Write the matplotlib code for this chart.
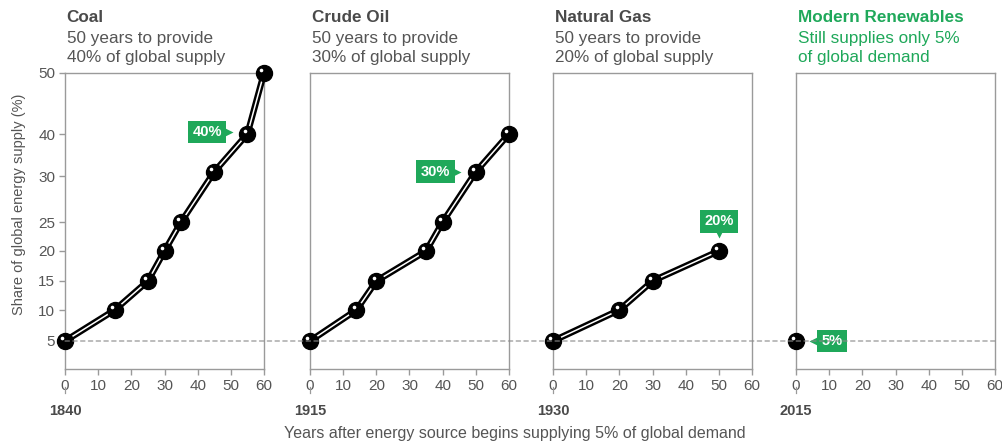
#!/usr/bin/env python3
"""Years for energy sources to reach share of global supply (small multiples)."""
import numpy as np
import matplotlib as mpl
mpl.use("Agg")
import matplotlib.pyplot as plt
from matplotlib.patches import ConnectionPatch
from matplotlib import transforms as mtrans

mpl.rcParams.update({
    "font.family": ["Liberation Sans", "DejaVu Sans"],
    "axes.edgecolor": "#9a9a9a",
    "axes.linewidth": 1.0,
    "xtick.color": "#9a9a9a",
    "ytick.color": "#9a9a9a",
    "xtick.labelcolor": "#555555",
    "ytick.labelcolor": "#555555",
    "xtick.labelsize": 11,
    "ytick.labelsize": 11,
})

# ---- data ----
COAL_X = [0, 15, 25, 30, 35, 45, 55, 60]
COAL_Y = [5, 10, 15, 20, 25, 31, 40, 50]
OIL_X = [0, 14, 20, 35, 40, 50, 60]
OIL_Y = [5, 10, 15, 20, 25, 31, 40]
GAS_X = [0, 20, 30, 50]
GAS_Y = [5, 10, 15, 20]
REN_X = [0]
REN_Y = [5]

TITLES = ["Coal", "Crude Oil", "Natural Gas", "Modern Renewables"]
SUBTITLES = [
    ["50 years to provide", "40% of global supply"],
    ["50 years to provide", "30% of global supply"],
    ["50 years to provide", "20% of global supply"],
    ["Still supplies only 5%", "of global demand"],
]
START_YEARS = ["1840", "1915", "1930", "2015"]
CALLOUTS = ["40%", "30%", "20%", "5%"]

Y_TICKS = [5, 10, 15, 20, 25, 30, 40, 50]
X_TICKS = [0, 10, 20, 30, 40, 50, 60]

# the original uses an uneven vertical scale; tick value -> relative height
SCALE_VALS = [0, 5, 10, 15, 20, 25, 30, 40, 50]
SCALE_POS = [0, 28, 59, 88, 118, 147, 193, 235, 296]

GREEN = "#1fa85a"
GRAY_TXT = "#555555"
DARK_TXT = "#4a4a4a"


def fwd(v):
    return np.interp(v, SCALE_VALS, SCALE_POS)


def inv(p):
    return np.interp(p, SCALE_POS, SCALE_VALS)


def draw_series(ax, fig, xs, ys):
    ax.plot(xs, ys, color="black", lw=4.6, solid_capstyle="round",
            solid_joinstyle="round", zorder=3, clip_on=False)
    ax.plot(xs, ys, color="white", lw=1.1, solid_capstyle="round",
            solid_joinstyle="round", zorder=4, clip_on=False)
    ax.plot(xs, ys, "o", color="black", ms=11.5, zorder=5, clip_on=False)
    hl = mtrans.offset_copy(ax.transData, fig=fig, x=-2.0, y=2.0, units="points")
    ax.plot(xs, ys, "o", color="white", ms=2.6, mec="none", zorder=6,
            transform=hl, clip_on=False)


def callout(ax, fig, x, y, text, box_off, tri_off, tri_marker):
    ax.annotate(text, xy=(x, y), xytext=box_off, textcoords="offset points",
                ha="center", va="center", color="white", fontsize=10.5,
                fontweight="bold", zorder=7,
                bbox=dict(boxstyle="square,pad=0.3", fc=GREEN, ec="none"))
    tr = mtrans.offset_copy(ax.transData, fig=fig, x=tri_off[0], y=tri_off[1],
                            units="points")
    ax.plot([x], [y], marker=tri_marker, color=GREEN, ms=6, mec="none",
            transform=tr, zorder=7, clip_on=False)


def plot():
    fig = plt.figure(figsize=(10.03, 4.41), dpi=100)
    W, H = 1003.0, 441.0
    lefts = [65, 310, 553, 796]
    ax_w, top_px, bot_px = 199, 73, 369

    axes = []
    for i, lx in enumerate(lefts):
        ax = fig.add_axes([lx / W, (H - bot_px) / H, ax_w / W, (bot_px - top_px) / H])
        ax.set_yscale("function", functions=(fwd, inv))
        ax.set_ylim(0, 50)
        ax.set_xlim(0, 60)
        ax.set_xticks(X_TICKS)
        ax.tick_params(axis="x", direction="out", length=4, width=1.0, pad=3)
        if i == 0:
            ax.set_yticks(Y_TICKS)
            ax.set_yticklabels([str(t) for t in Y_TICKS])
            ax.tick_params(axis="y", direction="out", length=4, width=1.0, pad=3)
            ax.set_ylabel("Share of global energy supply (%)", fontsize=10.5,
                          color=GRAY_TXT)
            ax.yaxis.set_label_coords(-0.196, 0.557)
        else:
            ax.set_yticks([])
        ax.yaxis.set_minor_locator(mpl.ticker.NullLocator())
        ax.set_facecolor("none")
        axes.append(ax)

        # titles
        tcol = GREEN if i == 3 else DARK_TXT
        scol = GREEN if i == 3 else GRAY_TXT
        ax.annotate(TITLES[i], xy=(0, 1), xycoords="axes fraction",
                    xytext=(1.2, 37), textcoords="offset points",
                    ha="left", va="baseline", fontsize=12.3, fontweight="bold",
                    color=tcol)
        ax.annotate(SUBTITLES[i][0], xy=(0, 1), xycoords="axes fraction",
                    xytext=(1.2, 21.8), textcoords="offset points",
                    ha="left", va="baseline", fontsize=12.3, color=scol)
        ax.annotate(SUBTITLES[i][1], xy=(0, 1), xycoords="axes fraction",
                    xytext=(1.2, 8.1), textcoords="offset points",
                    ha="left", va="baseline", fontsize=12.3, color=scol)

        # start year under the 0 tick
        blend = mtrans.blended_transform_factory(ax.transData, ax.transAxes)
        ax.plot([0, 0], [-0.062, -0.082], color="#9a9a9a", lw=0.9,
                transform=blend, clip_on=False)
        ax.text(0, -0.155, START_YEARS[i], transform=blend, ha="center",
                va="baseline", fontsize=10.5, fontweight="bold", color=DARK_TXT)

    # dashed 5% reference across all panels
    con = ConnectionPatch(xyA=(0, 5), coordsA=axes[0].transData,
                          xyB=(60, 5), coordsB=axes[3].transData,
                          color="#8a8a8a", lw=0.8, linestyle=(0, (4, 3)), zorder=1)
    fig.add_artist(con)

    series = [(COAL_X, COAL_Y), (OIL_X, OIL_Y), (GAS_X, GAS_Y), (REN_X, REN_Y)]
    for ax, (xs, ys) in zip(axes, series):
        draw_series(ax, fig, xs, ys)

    # callouts
    callout(axes[0], fig, COAL_X[-2], COAL_Y[-2], CALLOUTS[0], (-29, 1.5), (-13.5, 1.5), ">")
    callout(axes[1], fig, OIL_X[-2], OIL_Y[-2], CALLOUTS[1], (-29, 0), (-13.5, 0), ">")
    callout(axes[2], fig, GAS_X[-1], GAS_Y[-1], CALLOUTS[2], (0, 21.5), (0, 12.5), "v")
    callout(axes[3], fig, REN_X[0], REN_Y[0], CALLOUTS[3], (26, 0), (12.5, 0), "<")

    fig.text(515 / W, 1 - 438 / H,
             "Years after energy source begins supplying 5% of global demand",
             ha="center", va="baseline", fontsize=11.5, color=GRAY_TXT)

    fig.savefig("out.png", dpi=100)


if __name__ == "__main__":
    plot()
